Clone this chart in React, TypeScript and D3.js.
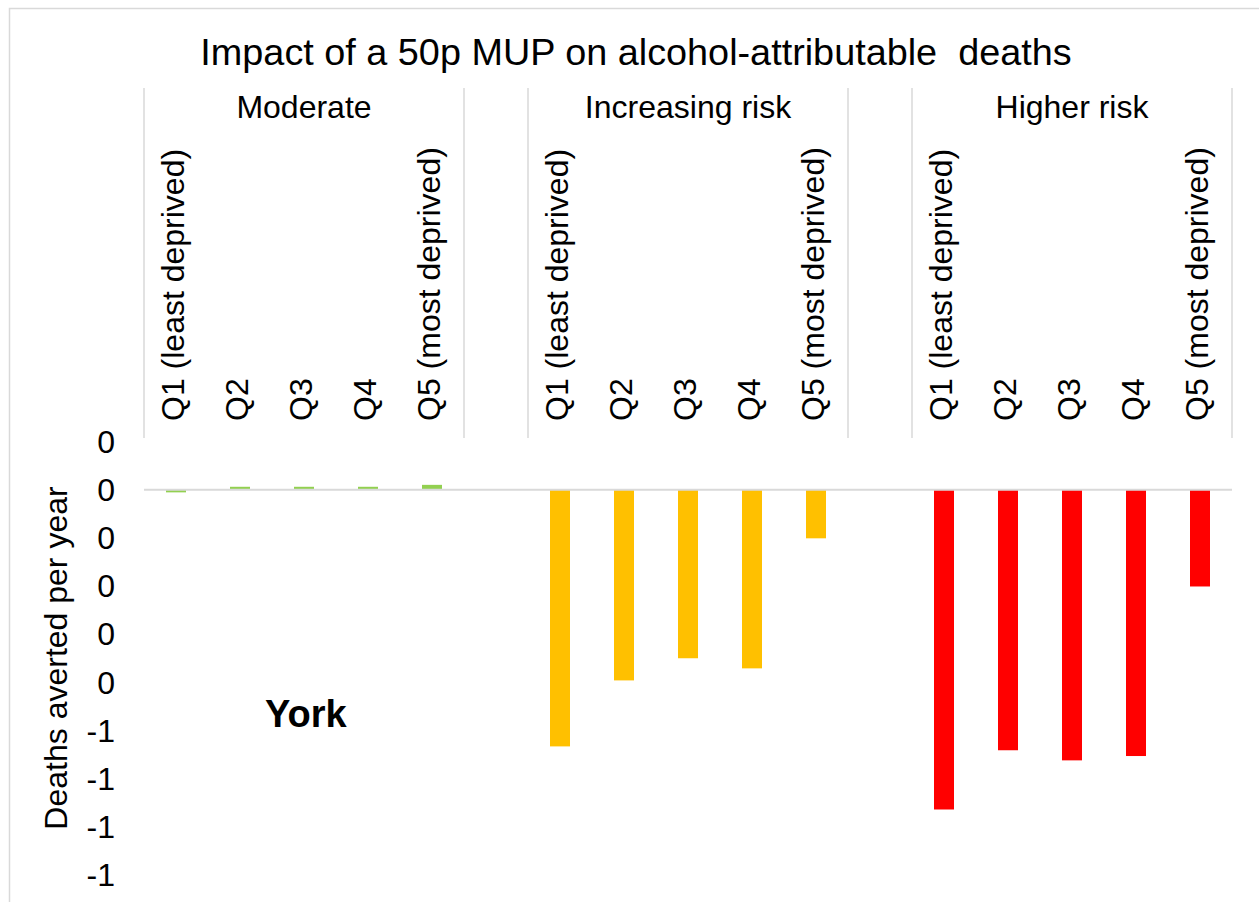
import React from 'react';
import * as d3 from 'd3';

// chart data
const groups = ['Moderate', 'Increasing risk', 'Higher risk'];
const groupColors = ['#92D050', '#FFC000', '#FF0000'];
const quintiles = ['Q1 (least deprived)', 'Q2', 'Q3', 'Q4', 'Q5 (most deprived)'];
const moderateValues = [-0.0056, 0.006, 0.006, 0.006, 0.01];
const increasingValues = [-0.533, -0.396, -0.35, -0.371, -0.101];
const higherValues = [-0.664, -0.541, -0.562, -0.553, -0.201];
const tickValues = [0.1, 0, -0.1, -0.2, -0.3, -0.4, -0.5, -0.6, -0.7, -0.8];
const tickLabels = ['0', '0', '0', '0', '0', '0', '-1', '-1', '-1', '-1'];

const seriesValues = [moderateValues, increasingValues, higherValues];

const W = 1259;
const H = 902;
const FONT = '"Liberation Sans", Arial, sans-serif';

// 5 slots per group + one blank slot between groups
const slots: string[] = [];
groups.forEach((g, gi) => {
  quintiles.forEach((q) => slots.push(`${g}|${q}`));
  if (gi < groups.length - 1) slots.push(`gap${gi}`);
});

const x = d3.scaleBand<string>().domain(slots).range([144, 1232]);
const y = d3.scaleLinear().domain([-0.8, 0.1]).range([875, 441.5]);
const barW = x.bandwidth() * 0.3125;

const App = () => {
  const bars = groups.flatMap((g, gi) =>
    quintiles.map((q, qi) => ({ key: `${g}|${q}`, v: seriesValues[gi][qi], color: groupColors[gi] }))
  );

  return (
    <svg width={W} height={H} style={{ position: 'absolute', left: 0, top: 0 }} fontFamily={FONT}>
      <rect x={9.5} y={8.5} width={1300} height={1000} fill="#fff" stroke="#d9d9d9" strokeWidth={1.5} />
      <text x={636} y={65} textAnchor="middle" fontSize={37.8} fill="#000">
        Impact of a 50p MUP on alcohol-attributable{'\u00a0\u00a0'}deaths
      </text>

      {groups.map((g) => {
        const x0 = x(`${g}|${quintiles[0]}`)!;
        const x1 = x(`${g}|${quintiles[quintiles.length - 1]}`)! + x.bandwidth();
        return (
          <g key={g}>
            <line x1={x0} x2={x0} y1={88} y2={438} stroke="#d9d9d9" strokeWidth={1.5} />
            <line x1={x1} x2={x1} y1={88} y2={438} stroke="#d9d9d9" strokeWidth={1.5} />
            <text x={(x0 + x1) / 2} y={118} textAnchor="middle" fontSize={32} fill="#000">{g}</text>
            {quintiles.map((q) => {
              const cx = x(`${g}|${q}`)! + x.bandwidth() / 2;
              return (
                <text key={q} transform={`translate(${cx + 8},421) rotate(-90)`} fontSize={32} fill="#000">
                  {q}
                </text>
              );
            })}
          </g>
        );
      })}

      {bars.map((b) => {
        const cx = x(b.key)! + x.bandwidth() / 2;
        return (
          <rect key={b.key} x={cx - barW / 2} width={barW}
            y={Math.min(y(b.v), y(0))} height={Math.abs(y(b.v) - y(0))} fill={b.color} />
        );
      })}

      <line x1={144} x2={1232} y1={y(0)} y2={y(0)} stroke="#d9d9d9" strokeWidth={2} />

      {tickValues.map((t, i) => (
        <text key={i} x={115} y={y(t)} dy="0.35em" textAnchor="end" fontSize={32} fill="#000">{tickLabels[i]}</text>
      ))}

      <text transform="translate(67,658) rotate(-90)" textAnchor="middle" fontSize={32} fill="#000">
        Deaths averted per year
      </text>

      <text x={265} y={727} fontSize={38} fontWeight="bold" fill="#000">York</text>
    </svg>
  );
};

export default App;
